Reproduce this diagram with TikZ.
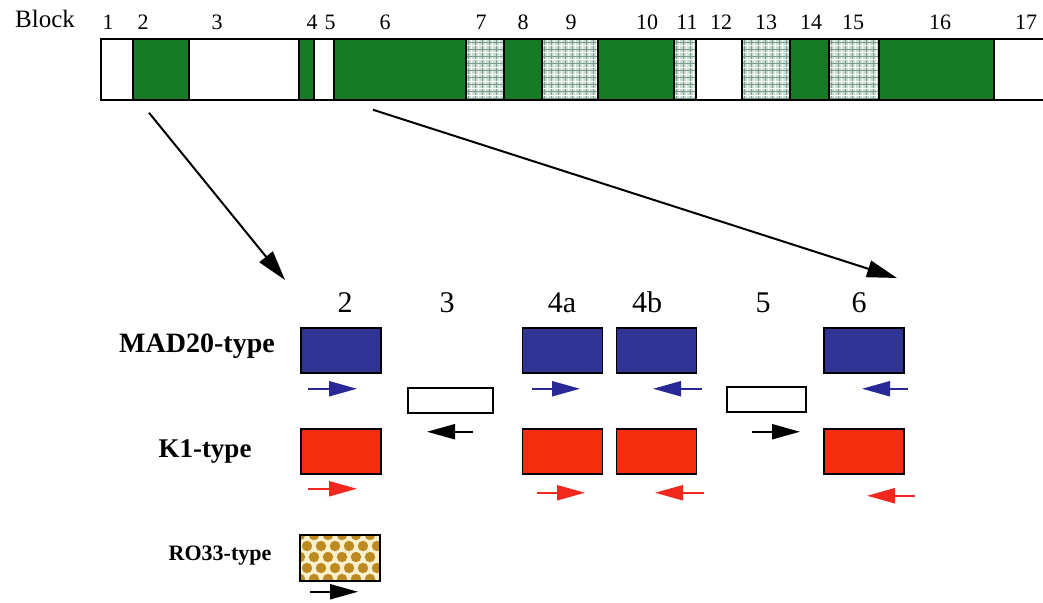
\documentclass[tikz,border=0pt]{standalone}
\usepackage{fontspec}
\setmainfont{Liberation Serif}
\usetikzlibrary{arrows.meta}

\definecolor{blkgreen}{RGB}{22,122,38}
\definecolor{chkbg}{RGB}{200,222,210}
\definecolor{chkline}{RGB}{125,155,138}
\definecolor{madblue}{RGB}{48,52,148}
\definecolor{kred}{RGB}{245,45,15}
\definecolor{rogold}{RGB}{188,138,32}
\definecolor{rocream}{RGB}{250,240,205}
\definecolor{arrblue}{RGB}{40,40,150}
\definecolor{arrred}{RGB}{240,40,30}

\begin{document}
\begin{tikzpicture}[x=1pt,y=-1pt,
   blk/.style={draw,line width=1.5pt,inner sep=0pt,minimum height=61pt},
   wblk/.style={blk,fill=white},
   gblk/.style={blk,fill=blkgreen},
   cblk/.style={blk,fill=chkbg,path picture={
     \foreach \k in {0,...,12} {
       \draw[chkline,line width=0.8pt] ([xshift=\k*7pt+2pt]path picture bounding box.south west)
         -- ([xshift=\k*7pt+2pt]path picture bounding box.north west);
       \draw[white,line width=1pt] ([xshift=\k*7pt+5pt]path picture bounding box.south west)
         -- ([xshift=\k*7pt+5pt]path picture bounding box.north west);
     }
     \foreach \k in {0,...,9} {
       \draw[chkline,line width=0.8pt] ([yshift=\k*7pt+2pt]path picture bounding box.south west)
         -- ([yshift=\k*7pt+2pt]path picture bounding box.south east);
       \draw[white,line width=1pt] ([yshift=\k*7pt+5pt]path picture bounding box.south west)
         -- ([yshift=\k*7pt+5pt]path picture bounding box.south east);
     }}},
   box/.style={draw,line width=1.5pt,inner sep=0pt,minimum width=80pt,minimum height=45pt},
   mad/.style={box,fill=madblue},
   kone/.style={box,fill=kred},
   gap/.style={draw,line width=1.5pt,inner sep=0pt,minimum height=25pt,fill=white},
   roblk/.style={box,minimum height=46pt,fill=rocream,path picture={
     \foreach \i in {0,...,6} \foreach \j in {0,...,4}
       \fill[rogold] ([shift={({\i*14pt+mod(\j,2)*7pt},{\j*11pt+2pt})}]path picture bounding box.south west) circle (5.2pt);
     }},
   lead/.style={line width=2pt,-{Triangle[length=30pt,width=17pt]}},
   ori/.style={line width=2.2pt,-{Triangle[length=28pt,width=15pt]}},
   top/.style={anchor=base,font=\fontsize{22}{24}\selectfont},
   num/.style={anchor=base,font=\fontsize{30}{32}\selectfont},
   tlab/.style={anchor=base,font=\bfseries\fontsize{28}{30}\selectfont}]
   \useasboundingbox (0,0) rectangle (1043,602);

   % the block bar
   \node[anchor=base,font=\fontsize{25}{27}\selectfont] (blocklab) at (45,28) {Block};
   \foreach \a/\b/\s/\lx [count=\n] in {101/133/wblk/108, 133/189/gblk/143, 189/299/wblk/217,
       299/314/gblk/312, 314/334/wblk/330, 334/466/gblk/385, 466/504/cblk/481,
       504/542/gblk/523, 542/598/cblk/571, 598/674/gblk/647, 674/696/cblk/687,
       696/742/wblk/721, 742/790/cblk/766, 790/829/gblk/811, 829/879/cblk/853,
       879/994/gblk/940, 994/1046/wblk/1026} {
     \node[\s,minimum width={\b-\a}] (blk\n) at ({(\a+\b)/2},69.5) {};
     \node[top] (lab\n) at (\lx,30) {\n};
   }

   \coordinate (s2) at ([shift={(-12,12)}]blk2.south);
   \coordinate (s6) at ([shift={(-27,9)}]blk6.south);
   \coordinate (t2) at (285,280);
   \coordinate (t6) at (897,278);
   \draw[lead] (s2) -- (t2);
   \draw[lead] (s6) -- (t6);

   % column heads
   \node[num] (c2) at (345,312) {2};
   \node[num] (c3) at (447,312) {3};
   \node[num] (c4a) at (562,312) {4a};
   \node[num] (c4b) at (647,312) {4b};
   \node[num] (c5) at (763,312) {5};
   \node[num] (c6) at (859,312) {6};

   \node[tlab] (madlab) at (197,352) {MAD20-type};
   \node[tlab,font=\bfseries\fontsize{27}{29}\selectfont] (klab) at (205,457) {K1-type};
   \node[tlab,font=\bfseries\fontsize{22}{24}\selectfont] (rolab) at (220,560) {RO33-type};

   \node[mad] (m2) at (341,350.5) {};
   \node[mad] (m4a) at (562.5,350.5) {};
   \node[mad] (m4b) at (656.5,350.5) {};
   \node[mad] (m6) at (864,350.5) {};
   \node[gap,minimum width=85pt] (g3) at (450.5,400.5) {};
   \node[gap,minimum width=79pt] (g5) at (766.5,399.5) {};
   \node[kone] (k2) at (341,451.5) {};
   \node[kone] (k4a) at (562.5,451.5) {};
   \node[kone] (k4b) at (656.5,451.5) {};
   \node[kone] (k6) at (864,451.5) {};
   \node[roblk] (r2) at (340,558) {};

   % orientation of each element
   \draw[ori,arrblue] ([shift={(-33,15)}]m2.south) -- ([shift={(16,15)}]m2.south);
   \draw[ori,arrblue] ([shift={(-30.5,15)}]m4a.south) -- ([shift={(17.5,15)}]m4a.south);
   \draw[ori,arrblue] ([shift={(45.5,15)}]m4b.south) -- ([shift={(-3.5,15)}]m4b.south);
   \draw[ori,arrblue] ([shift={(44,15)}]m6.south) -- ([shift={(-2,15)}]m6.south);
   \draw[ori] ([shift={(22.5,18)}]g3.south) -- ([shift={(-23.5,18)}]g3.south);
   \draw[ori] ([shift={(-14.5,19)}]g5.south) -- ([shift={(33.5,19)}]g5.south);
   \draw[ori,arrred] ([shift={(-33,14)}]k2.south) -- ([shift={(16,14)}]k2.south);
   \draw[ori,arrred] ([shift={(-25.5,18)}]k4a.south) -- ([shift={(22.5,18)}]k4a.south);
   \draw[ori,arrred] ([shift={(47.5,18)}]k4b.south) -- ([shift={(-1.5,18)}]k4b.south);
   \draw[ori,arrred] ([shift={(51,21)}]k6.south) -- ([shift={(3,21)}]k6.south);
   \draw[ori] ([shift={(-30,10)}]r2.south) -- ([shift={(18,10)}]r2.south);
\end{tikzpicture}
\end{document}
